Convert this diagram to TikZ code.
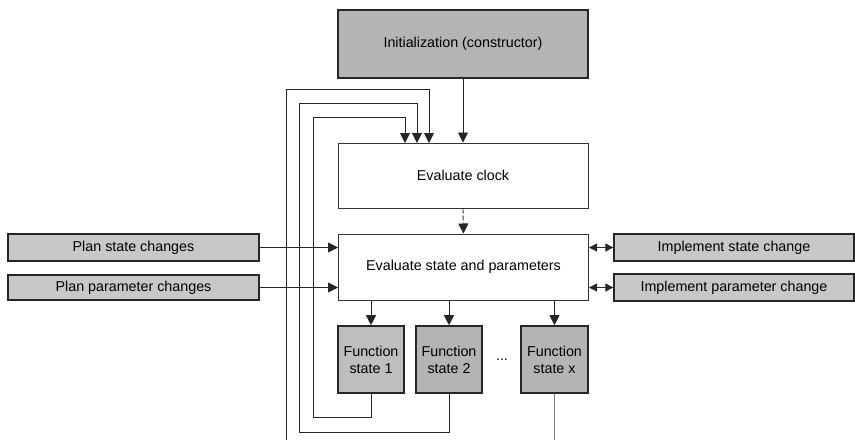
\documentclass[tikz,border=0pt]{standalone}
\usepackage{fontspec}
\setmainfont{Liberation Sans}
\usetikzlibrary{arrows.meta}
\definecolor{initfill}{HTML}{B4B4B4}
\definecolor{sidefill}{HTML}{C8C8C8}
\definecolor{fsfill}{HTML}{BEBEBE}
\definecolor{edgecol}{HTML}{333333}
\begin{document}
\begin{tikzpicture}[x=1pt,y=-1pt,
  every node/.style={font=\fontsize{14.3}{17}\selectfont, inner sep=0pt, align=center},
  whitebox/.style={draw=edgecol, line width=1pt, fill=white, minimum width=250pt},
  shadebox/.style={draw=black!85, line width=1.6pt, fill=#1},
  conn/.style={draw=black!85, line width=0.9pt},
  arr/.style={conn, -{Triangle[length=10pt,width=10pt]}},
  darr/.style={conn, {Triangle[length=8pt,width=8pt]}-{Triangle[length=8pt,width=8pt]}}
]
\useasboundingbox (0,0) rectangle (855,440);

% nodes
\node[shadebox=initfill, minimum width=250pt, minimum height=68pt] (init) at (463,44) {Initialization (constructor)};
\node[whitebox, minimum height=65pt] (clock) at (463,175.5) {Evaluate clock};
\node[whitebox, minimum height=66pt] (state) at (463.5,267) {Evaluate state and parameters};
\node[shadebox=fsfill, minimum width=66pt, minimum height=67pt] (fs1) at (371,359.5) {Function\\state 1};
\node[shadebox=initfill, minimum width=66pt, minimum height=67pt] (fs2) at (449,359.5) {Function\\state 2};
\node[shadebox=initfill, minimum width=67pt, minimum height=67pt] (fsx) at (554.5,359.5) {Function\\state x};
\node (dots) at (502,360) {...};
\node[shadebox=sidefill, line width=1.3pt, minimum width=251pt, minimum height=27pt] (plan1) at (133.5,247.5) {Plan state changes};
\node[shadebox=sidefill, line width=1.3pt, minimum width=251pt, minimum height=25pt] (plan2) at (133.5,287.5) {Plan parameter changes};
\node[shadebox=sidefill, line width=1.3pt, minimum width=240pt, minimum height=27pt] (impl1) at (734,247.5) {Implement state change};
\node[shadebox=sidefill, line width=1.3pt, minimum width=240pt, minimum height=27pt] (impl2) at (734,287.5) {Implement parameter change};

\coordinate (outerstart) at (286,440);
\coordinate (fsxend) at (554.5,440);

% connectors
\draw[arr] (init.south) -- (clock.north);
\draw[arr, dashed, dash pattern=on 5pt off 2pt] (clock.south) -- (state.north);
\draw[arr] (plan1.east) -- (plan1.east -| state.west);
\draw[arr] (plan2.east) -- (plan2.east -| state.west);
\draw[darr] (impl1.west -| state.east) -- (impl1.west);
\draw[darr] (impl2.west -| state.east) -- (impl2.west);
\draw[arr] (fs1.north |- state.south) -- (fs1.north);
\draw[arr] (fs2.north |- state.south) -- (fs2.north);
\draw[arr] (fsx.north |- state.south) -- (fsx.north);

% feedback loops
\draw[arr] (fs1.south) -- (371,417) -- (313,417) -- (313,117) -- (405,117) -- (405,143);
\draw[arr] (fs2.south) -- (449,432) -- (299,432) -- (299,103) -- (417,103) -- (417,143);
\draw[arr] (outerstart) -- (286,89) -- (429,89) -- (429,143);
\draw[conn, draw=gray] (fsx.south) -- (fsxend);
\end{tikzpicture}
\end{document}
